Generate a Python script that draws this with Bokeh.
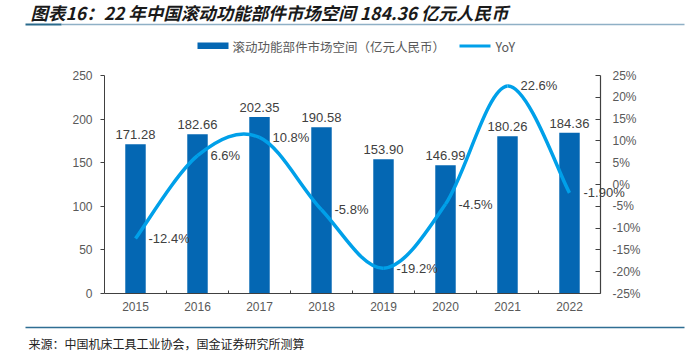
from bokeh.plotting import figure
from bokeh.models import Range1d, LinearAxis, FixedTicker, ColumnDataSource, LabelSet
from bokeh.layouts import column
from bokeh.core.properties import value
from bokeh.embed import file_html
from bokeh.resources import INLINE

years = ["2015", "2016", "2017", "2018", "2019", "2020", "2021", "2022"]
market = [171.28, 182.66, 202.35, 190.58, 153.90, 146.99, 180.26, 184.36]
yoy = [-12.4, 6.6, 10.8, -5.8, -19.2, -4.5, 22.6, -1.9]
yoy_labels = ["-12.4%", "6.6%", "10.8%", "-5.8%", "-19.2%", "-4.5%", "22.6%", "-1.90%"]
left_ticks = [0, 50, 100, 150, 200, 250]
right_ticks = [-25, -20, -15, -10, -5, 0, 5, 10, 15, 20, 25]

title_text = "图表16：22 年中国滚动功能部件市场空间 184.36 亿元人民币"
bar_name = "滚动功能部件市场空间（亿元人民币）"
line_name = "YoY"
source_text = "来源：中国机床工具工业协会，国金证券研究所测算"

BAR = "#0467B3"
LINE = "#00A0E9"
AXIS = "#404040"
TICKC = "#595959"
LABC = "#404040"
CN = "Noto Sans CJK SC"
LAT = "Liberation Sans"

W = 696


def no_align(f):
    try:
        f.frame_align = False
    except Exception:
        pass


# ---------- header (title + rule + legend) ----------
top = figure(width=W, height=58, x_range=Range1d(0, W), y_range=Range1d(58, 0),
             output_backend="svg", toolbar_location=None, min_border=0)
no_align(top)
top.axis.visible = False
top.grid.visible = False
top.outline_line_color = None
top.text(x=[30], y=[11.5], text=[title_text], text_font=value(CN), text_font_style="bold italic",
         text_font_size="17.5px", text_color="#1a1a1a", text_baseline="middle", text_align="left")
top.segment(x0=[61], y0=[24], x1=[684], y1=[24], line_color="#8FB0C6", line_width=1.5)
top.segment(x0=[25], y0=[24], x1=[61], y1=[24], line_color="#2A6A8C", line_width=2)
# legend
top.quad(left=[197], right=[228], top=[42], bottom=[48.5], fill_color=BAR, line_color=None)
top.text(x=[232], y=[45.5], text=[bar_name], text_font=value(CN), text_font_size="12.5px",
         text_color=TICKC, text_baseline="middle", text_align="left")
top.segment(x0=[459], y0=[45.5], x1=[490], y1=[45.5], line_color=LINE, line_width=3)
top.text(x=[495], y=[45.5], text=[line_name], text_font=value(CN), text_font_size="12.5px",
         text_color=TICKC, text_baseline="middle", text_align="left")

# ---------- main chart ----------
n = len(years)
xs = list(range(n))
p = figure(width=W, height=265, x_range=Range1d(-0.5, n - 0.5), y_range=Range1d(0, 250),
           output_backend="svg", toolbar_location=None,
           min_border_left=104, min_border_right=96, min_border_top=17, min_border_bottom=30)
no_align(p)
p.extra_y_ranges = {"pct": Range1d(-25, 25)}
p.grid.visible = False
p.outline_line_color = None

src = ColumnDataSource(dict(x=xs[:-1], yy=yoy[:-1], yl=yoy_labels[:-1]))
bars = ColumnDataSource(dict(x=xs, m=market, ml=["%.2f" % v for v in market]))
p.vbar(x="x", top="m", width=0.33, source=bars, fill_color=BAR, line_color=None)

# smoothed YoY line (Catmull-Rom style bezier through the data points)
pts = list(zip(xs, yoy))
bx0, by0, bx1, by1, cx0, cy0, cx1, cy1 = [], [], [], [], [], [], [], []
for i in range(len(pts) - 1):
    p0 = pts[i - 1] if i > 0 else pts[i]
    p1 = pts[i]
    p2 = pts[i + 1]
    p3 = pts[i + 2] if i + 2 < len(pts) else pts[i + 1]
    bx0.append(p1[0]); by0.append(p1[1])
    bx1.append(p2[0]); by1.append(p2[1])
    cx0.append(p1[0] + (p2[0] - p0[0]) / 6); cy0.append(p1[1] + (p2[1] - p0[1]) / 6)
    cx1.append(p2[0] - (p3[0] - p1[0]) / 6); cy1.append(p2[1] - (p3[1] - p1[1]) / 6)
p.bezier(x0=bx0, y0=by0, x1=bx1, y1=by1, cx0=cx0, cy0=cy0, cx1=cx1, cy1=cy1,
         line_color=LINE, line_width=3.5, y_range_name="pct")

p.add_layout(LabelSet(x="x", y="m", text="ml", source=bars, text_font=value(LAT), text_font_size="13px",
                      text_color=LABC, text_align="center", text_baseline="bottom", y_offset=5))
p.add_layout(LabelSet(x="x", y="yy", text="yl", source=src, y_range_name="pct", text_font=value(LAT),
                      text_font_size="13px", text_color=LABC, text_align="left",
                      text_baseline="middle", x_offset=13))

# axes
xa = p.xaxis[0]
xa.ticker = FixedTicker(ticks=xs, minor_ticks=[i + 0.5 for i in xs[:-1]])
xa.major_label_overrides = {i: y for i, y in enumerate(years)}
xa.major_tick_in = 0
xa.major_tick_out = 0
xa.minor_tick_in = 3
xa.minor_tick_out = 0
xa.axis_line_color = AXIS
xa.minor_tick_line_color = AXIS
xa.major_label_standoff = 8
xa.major_label_text_font = LAT
xa.major_label_text_font_size = "12px"
xa.major_label_text_color = TICKC

ya = p.yaxis[0]
ya.ticker = FixedTicker(ticks=left_ticks)
ya.minor_tick_line_color = None
ya.major_tick_in = 0
ya.major_tick_out = 4
ya.axis_line_color = AXIS
ya.major_tick_line_color = AXIS
ya.major_label_standoff = 8
ya.major_label_text_font = LAT
ya.major_label_text_font_size = "12px"
ya.major_label_text_color = TICKC

ra = LinearAxis(y_range_name="pct", ticker=FixedTicker(ticks=right_ticks))
ra.major_label_overrides = {t: "%d%%" % t for t in right_ticks}
ra.minor_tick_line_color = None
ra.major_tick_in = 5
ra.major_tick_out = 0
ra.axis_line_color = AXIS
ra.axis_line_width = 1.2
ra.major_tick_line_color = AXIS
ra.major_label_standoff = 12
ra.major_label_text_font = LAT
ra.major_label_text_font_size = "12px"
ra.major_label_text_color = TICKC
p.add_layout(ra, "right")

# last YoY label overhangs the right axis in the original: draw it as an unclipped axis label
la = LinearAxis(y_range_name="pct", ticker=FixedTicker(ticks=[yoy[-1]]))
la.major_label_overrides = {yoy[-1]: yoy_labels[-1]}
la.axis_line_color = None
la.major_tick_line_color = None
la.minor_tick_line_color = None
la.major_tick_in = 0
la.major_tick_out = 0
la.major_label_standoff = -60
la.major_label_text_font = LAT
la.major_label_text_font_size = "13px"
la.major_label_text_color = LABC
p.add_layout(la, "right")

# ---------- footer ----------
bot = figure(width=W, height=28, x_range=Range1d(0, W), y_range=Range1d(28, 0),
             output_backend="svg", toolbar_location=None, min_border=0)
no_align(bot)
bot.axis.visible = False
bot.grid.visible = False
bot.outline_line_color = None
bot.segment(x0=[25], y0=[4], x1=[684], y1=[4], line_color="#2F6E93", line_width=1.5)
bot.text(x=[28], y=[20], text=[source_text], text_font=value(CN), text_font_size="12px",
         text_color="#222222", text_baseline="middle", text_align="left")

layout = column(top, p, bot, spacing=0)
open("out.html", "w").write(file_html(layout, INLINE))
